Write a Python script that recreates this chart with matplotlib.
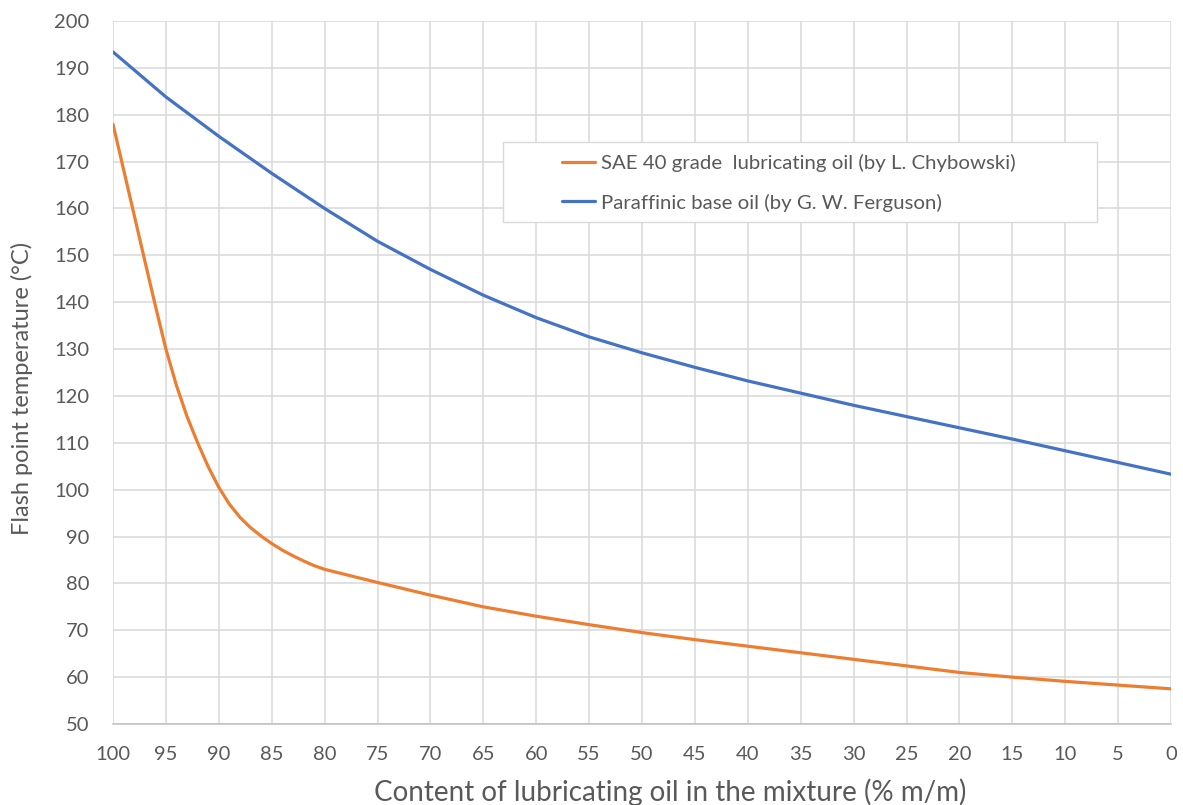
import matplotlib
matplotlib.use("Agg")
import matplotlib.pyplot as plt
from matplotlib.patches import Rectangle
from matplotlib.ticker import MultipleLocator

plt.rcParams['font.family'] = ['Lato', 'DejaVu Sans']

# Orange series: SAE 40 grade lubricating oil
sae_content = [100, 99, 98, 97, 96, 95, 94, 93, 92, 91, 90, 89, 88, 87, 86, 85,
               84, 83, 82, 81, 80, 75, 70, 65, 60, 55, 50, 45, 40, 35, 30, 25, 20, 15, 10, 5, 0]
sae_flash = [178.0, 168.3, 158.6, 148.9, 139.3, 130.0, 122.2, 115.6, 110.0, 104.9, 100.5,
             96.9, 94.1, 91.9, 90.1, 88.5, 87.1, 85.9, 84.8, 83.8, 83.0, 80.2, 77.5, 75.0,
             73.0, 71.2, 69.5, 68.0, 66.6, 65.2, 63.8, 62.4, 61.0, 60.0, 59.1, 58.3, 57.5]

# Blue series: paraffinic base oil
par_content = [100, 95, 90, 85, 80, 75, 70, 65, 60, 55, 50, 45, 40, 35, 30, 25, 20, 15, 10, 5, 0]
par_flash = [193.4, 183.8, 175.4, 167.5, 160.0, 153.0, 147.0, 141.5, 136.7, 132.6, 129.2,
             126.1, 123.2, 120.6, 118.0, 115.6, 113.2, 110.8, 108.3, 105.8, 103.3]

x_ticks = list(range(100, -1, -5))
y_min, y_max = 50, 200

text_color = '#595959'
grid_color = '#D9D9D9'

W, H = 1183, 805
fig = plt.figure(figsize=(W / 100, H / 100), dpi=100)
ax = fig.add_axes([113 / W, 1 - 724 / H, 1058 / W, 703 / H])

ax.plot(sae_content, sae_flash, color='#ED7D31', lw=2.3,
        label='SAE 40 grade  lubricating oil (by L. Chybowski)',
        solid_capstyle='round', solid_joinstyle='round', zorder=3)
ax.plot(par_content, par_flash, color='#4472C4', lw=2.3,
        label='Paraffinic base oil (by G. W. Ferguson)',
        solid_capstyle='round', solid_joinstyle='round', zorder=3)

ax.set_xlim(100, 0)
ax.set_ylim(y_min, y_max)
ax.set_xticks(x_ticks)
ax.yaxis.set_major_locator(MultipleLocator(10))
ax.grid(True, color=grid_color, lw=1.1)
ax.set_axisbelow(True)
for s in ['top', 'right', 'left']:
    ax.spines[s].set_visible(False)
ax.spines['bottom'].set_color('#BFBFBF')
ax.spines['bottom'].set_linewidth(1.1)
ax.tick_params(axis='both', length=0, labelsize=14.5, colors=text_color)
ax.tick_params(axis='y', pad=17)
ax.tick_params(axis='x', pad=16)

ax.set_xlabel('Content of lubricating oil in the mixture (% m/m)', fontsize=20,
              color=text_color)
ax.set_ylabel('Flash point temperature (°C)', fontsize=17, color=text_color)
ax.xaxis.set_label_coords((670 - 113) / 1058, (724 - 792) / 703)
ax.xaxis.label.set_va('center')
ax.yaxis.set_label_coords((22 - 113) / 1058, (724 - 388) / 703)
ax.yaxis.label.set_va('center')

# legend box
ax.add_patch(Rectangle((503 / W, 1 - 222 / H), 594 / W, 80 / H,
                       transform=fig.transFigure, facecolor='white',
                       edgecolor=grid_color, lw=1.0, zorder=4, clip_on=False))
leg = ax.legend(loc='upper left', bbox_to_anchor=(562 / W, 1 - 154 / H),
                bbox_transform=fig.transFigure, fontsize=14.7, frameon=False,
                handlelength=1.6, handletextpad=0.3, borderpad=0,
                labelspacing=1.05, borderaxespad=0)
leg.set_zorder(6)
for t in leg.get_texts():
    t.set_color(text_color)
for ln in leg.get_lines():
    ln.set_linewidth(2.3)

fig.savefig('out.png', dpi=100, facecolor='white')
